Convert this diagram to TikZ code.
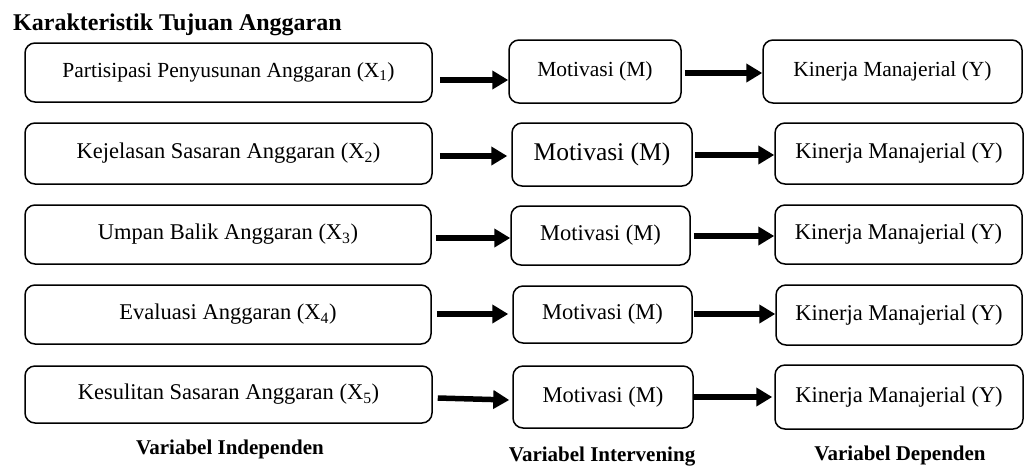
\documentclass[tikz,border=0pt]{standalone}
\usepackage{fontspec}
\setmainfont{Liberation Serif}
\usetikzlibrary{arrows.meta,calc}
\tikzset{
  box/.style={draw=black, line width=1.5pt, rounded corners=10pt, inner sep=0pt, align=center, font=\fontsize{22.5}{27}\selectfont},
  arr/.style={line width=5.5pt, -{Triangle[length=16pt,width=18pt]}},
  lab/.style={font=\fontsize{21}{25}\selectfont\bfseries},
}
\begin{document}
\begin{tikzpicture}[x=1pt,y=-1pt]
\useasboundingbox (0,0) rectangle (1024,467);
\node[anchor=west, font=\fontsize{24}{28}\selectfont\bfseries, inner sep=0pt] (title) at (13,25) {Karakteristik Tujuan Anggaran};
% row 1
\node[box, minimum width=407pt, minimum height=59pt, font=\fontsize{21.5}{26}\selectfont] (L1) at (228.5,72.5) {Partisipasi Penyusunan Anggaran (X\textsubscript{1})};
\node[box, minimum width=172pt, minimum height=63pt, font=\fontsize{21.5}{26}\selectfont] (M1) at (595,71.5) {Motivasi (M)};
\node[box, minimum width=259pt, minimum height=63pt, font=\fontsize{21.5}{26}\selectfont] (K1) at (892.5,71.5) {Kinerja Manajerial (Y)};
% row 2
\node[box, minimum width=407pt, minimum height=61pt] (L2) at (228.5,153.5) {Kejelasan Sasaran Anggaran (X\textsubscript{2})};
\node[box, minimum width=180pt, minimum height=63pt, font=\fontsize{25.5}{30}\selectfont] (M2) at (602,154.5) {Motivasi (M)};
\node[box, minimum width=248pt, minimum height=61pt] (K2) at (899,153.5) {Kinerja Manajerial (Y)};
% row 3
\node[box, minimum width=406pt, minimum height=59pt] (L3) at (228,234.5) {Umpan Balik Anggaran (X\textsubscript{3})};
\node[box, minimum width=179pt, minimum height=59pt] (M3) at (600.5,235.5) {Motivasi (M)};
\node[box, minimum width=247pt, minimum height=59pt] (K3) at (898.5,234.5) {Kinerja Manajerial (Y)};
% row 4
\node[box, minimum width=406pt, minimum height=59pt] (L4) at (228,314.5) {Evaluasi Anggaran (X\textsubscript{4})};
\node[box, minimum width=179pt, minimum height=57pt] (M4) at (602.5,314.5) {Motivasi (M)};
\node[box, minimum width=246pt, minimum height=60pt] (K4) at (899,315) {Kinerja Manajerial (Y)};
% row 5
\node[box, minimum width=407pt, minimum height=57pt] (L5) at (228.5,394.5) {Kesulitan Sasaran Anggaran (X\textsubscript{5})};
\node[box, minimum width=180pt, minimum height=62pt] (M5) at (603,397) {Motivasi (M)};
\node[box, minimum width=248pt, minimum height=64pt] (K5) at (899,397) {Kinerja Manajerial (Y)};
% arrows
\draw[arr] ($(L1.east|-0,80)+(7,0)$) -- (M1.west|-0,80);
\draw[arr] ($(M1.east|-0,73)+(3,0)$) -- (K1.west|-0,73);
\draw[arr] ($(L2.east|-0,156)+(7,0)$) -- ($(M2.west|-0,156)+(-4,0)$);
\draw[arr] ($(M2.east|-0,155)+(2,0)$) -- (K2.west|-0,155);
\draw[arr] ($(L3.east|-0,238)+(4,0)$) -- (M3.west|-0,238);
\draw[arr] ($(M3.east|-0,236)+(3,0)$) -- (K3.west|-0,236);
\draw[arr] ($(L4.east|-0,314)+(5,0)$) -- ($(M4.west|-0,314)+(-4,0)$);
\draw[arr] ($(M4.east|-0,314)+(1,0)$) -- (K4.west|-0,314);
\draw[arr] ($(L5.east|-0,398)+(5,0)$) -- ($(M5.west|-0,400)+(-3,0)$);
\draw[arr] ($(M5.east|-0,397)+(0,0)$) -- ($(K5.west|-0,397)+(-2,0)$);
% labels
\node[lab] (li) at (230,449) {Variabel Independen};
\node[lab] (lm) at (602,457) {Variabel Intervening};
\node[lab] (ld) at (900,455) {Variabel Dependen};
\end{tikzpicture}
\end{document}
